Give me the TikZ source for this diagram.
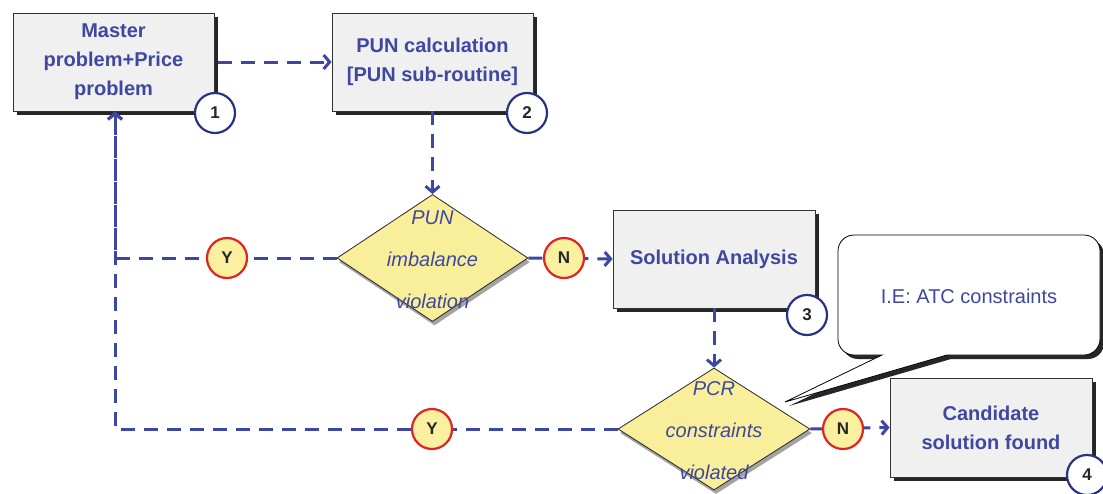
\documentclass[tikz,border=0pt]{standalone}
\usepackage{fontspec}
\setmainfont{Liberation Sans}
\usetikzlibrary{shapes.geometric,shadows,arrows.meta}
\definecolor{tblue}{RGB}{62,72,160}
\definecolor{lblue}{RGB}{60,70,165}
\definecolor{boxfill}{RGB}{240,240,240}
\definecolor{dyellow}{RGB}{249,239,155}
\definecolor{cyellow}{RGB}{250,240,160}
\definecolor{cred}{RGB}{225,35,35}
\definecolor{nblue}{RGB}{40,50,130}
\begin{document}
\begin{tikzpicture}[x=1pt,y=-1pt,
  procbox/.style={draw=black!80, line width=0.8pt, fill=boxfill, inner sep=0pt,
    minimum width=201pt, minimum height=98pt,
    text=tblue, font=\fontsize{20}{29}\selectfont\bfseries, align=center,
    drop shadow={shadow xshift=4pt, shadow yshift=-4pt, fill=black!85, opacity=1}},
  decision/.style={diamond, draw=black!85, line width=0.8pt, fill=dyellow, inner sep=0pt,
    drop shadow={shadow xshift=2pt, shadow yshift=-4pt, fill=black!60, opacity=.6}},
  dtext/.style={text=tblue, font=\fontsize{20}{42}\selectfont\itshape, align=center},
  yn/.style={circle, draw=cred, line width=2.2pt, fill=cyellow, minimum size=40pt, inner sep=0pt,
    font=\fontsize{17}{17}\selectfont\bfseries, text=black!85},
  num/.style={circle, draw=nblue, line width=2.2pt, fill=white, minimum size=40pt, inner sep=0pt,
    font=\fontsize{17}{17}\selectfont\bfseries, text=black!85},
  flow/.style={draw=lblue, line width=3pt, dash pattern=on 14pt off 9pt,
    -{Straight Barb[length=6pt,width=14pt]}},
  calltext/.style={text=tblue, font=\fontsize{20}{20}\selectfont}
]
\useasboundingbox (0,0) rectangle (1103,493);

% process boxes
\node[procbox] (b1) at (113.5,62) {Master\\problem+Price\\problem};
\node[procbox] (b2) at (432.5,62) {PUN calculation\\{[PUN sub-routine]}};
\node[procbox, minimum width=202pt] (b3) at (714,259) {Solution Analysis};
\node[procbox, minimum width=202pt, minimum height=99pt] (b4) at (991,427.5) {Candidate\\solution found};

% decisions
\node[decision, minimum width=191pt, minimum height=127pt] (d1) at (432.5,258) {};
\node[dtext] (dt1) at (432.5,260) {PUN\\imbalance\\violation};
\node[decision, minimum width=192pt, minimum height=122pt] (d2) at (714,429) {};
\node[dtext] (dt2) at (714,431) {PCR\\constraints\\violated};

% connectors
\draw[flow] ([xshift=4pt]b1.east) -- (b2.west);
\draw[flow] (b2.south) -- (d1.north);
\draw[flow] (d1.east) -- (b3.west);
\draw[flow] (d1.west) -| ([xshift=1.5pt]b1.south);
\draw[flow] (b3.south) -- (d2.north);
\draw[flow] (d2.east) -- (b4.west);
\draw[flow] (d2.west) -| ([xshift=1.5pt]b1.south);

% Y / N markers
\node[yn] (y1) at (227,258) {Y};
\node[yn] (n1) at (564,258) {N};
\node[yn] (y2) at (432,429) {Y};
\node[yn] (n2) at (843,429) {N};

% step numbers
\node[num] (c1) at (215,113) {1};
\node[num] (c2) at (527,113) {2};
\node[num] (c3) at (807,315) {3};
\node[num] (c4) at (1087,475) {4};

% callout
\draw[black, line width=0.8pt, fill=white,
  drop shadow={shadow xshift=4pt, shadow yshift=-4pt, fill=black!85, opacity=1}]
  (785,402) -- (947,355) [rounded corners=16pt] -- (1100,355) -- (1100,235) -- (838,235) -- (838,355) [sharp corners] -- (882,355) -- cycle;
\node[calltext] (ct) at (969,296) {I.E: ATC constraints};
\end{tikzpicture}
\end{document}
